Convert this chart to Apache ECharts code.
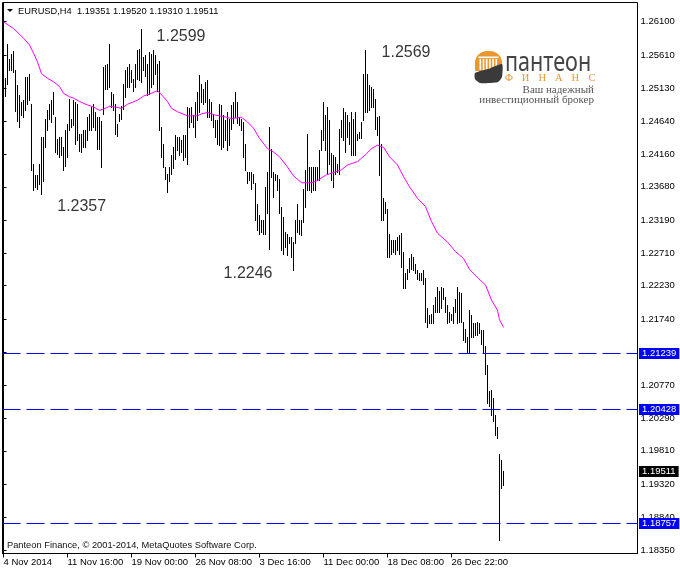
<!DOCTYPE html>
<html><head><meta charset="utf-8">
<script src="https://cdn.jsdelivr.net/npm/echarts@6/dist/echarts.min.js"></script>
<style>html,body{margin:0;padding:0;background:#fff}#c{width:680px;height:571px}</style>
</head><body><div id="c"></div>
<script>
// ---- data ----
const symbolName = 'EURUSD,H4';
const lastOHLC = ['1.19351', '1.19520', '1.19310', '1.19511'];

const highs = [
 1.2528,1.2528,1.2577,1.2556,1.2563,1.2567,1.2539,1.2517,1.2502,1.2492,
 1.2495,1.2529,1.2529,1.2534,1.2490,1.2402,1.2385,1.2385,1.2402,1.2441,
 1.2441,1.2468,1.2480,1.2490,1.2495,1.2507,1.2470,1.2438,1.2441,1.2441,
 1.2426,1.2451,1.2460,1.2497,1.2468,1.2495,1.2492,1.2490,1.2446,1.2446,
 1.2451,1.2451,1.2470,1.2475,1.2485,1.2490,1.2478,1.2470,1.2470,1.2465,
 1.2544,1.2546,1.2548,1.2577,1.2507,1.2504,1.2490,1.2460,1.2475,1.2487,
 1.2519,1.2539,1.2544,1.2548,1.2539,1.2526,1.2548,1.2568,1.2570,1.2599,
 1.2558,1.2561,1.2548,1.2566,1.2563,1.2568,1.2561,1.2548,1.2553,1.2456,
 1.2431,1.2397,1.2387,1.2397,
 1.2414,1.2427,1.2444,1.2441,1.2441,1.2436,1.2444,1.2444,1.2485,1.2483,
 1.2485,1.2473,1.2493,1.2507,1.2532,1.2519,1.2511,1.2522,1.2524,1.2497,
 1.2493,1.2475,1.2466,1.2466,1.2490,1.2488,1.2473,1.2466,1.2478,1.2468,
 1.2488,1.2493,1.2507,1.2493,1.2471,1.2468,1.2463,1.2431,1.2390,1.2390,
 1.2390,1.2387,1.2373,1.2343,1.2326,1.2319,1.2319,1.2368,1.2390,1.2456,
 1.2424,1.2390,1.2387,1.2385,1.2380,1.2339,1.2324,1.2302,1.2299,1.2294,
 1.2294,1.2287,1.2319,1.2343,1.2319,1.2319,1.2365,1.2392,1.2446,1.2397,
 1.2397,1.2397,1.2397,1.2397,1.2422,1.2451,1.2493,1.2473,1.2485,1.2466,
 1.2417,1.2414,1.2412,1.2402,1.2453,
 1.2466,1.2483,1.2478,1.2473,1.2463,1.2478,1.2468,1.2478,1.2446,1.2449,
 1.2463,1.2534,1.2569,1.2534,1.2517,1.2515,1.2512,1.2496,1.2471,1.2472,
 1.2431,1.2351,1.2346,1.2336,1.2299,1.2290,1.2290,1.2290,1.2294,1.2297,
 1.2300,1.2272,1.2241,1.2248,1.2263,1.2270,1.2265,1.2255,1.2246,1.2241,
 1.2241,
 1.2246,1.2234,1.2190,1.2180,1.2182,1.2195,1.2207,1.2221,1.2215,1.2221,
 1.2219,1.2207,1.2195,1.2185,1.2182,1.2192,1.2204,1.2221,1.2214,1.2212,
 1.2170,1.2160,1.2148,1.2187,1.2180,1.2168,1.2168,1.2170,1.2168,1.2158,
 1.2158,1.2135,1.2107,1.2068,1.2070,1.2058,1.2033,1.2016,1.1977,1.1967,
 1.1952
];

const lows = [
 1.2499,1.2501,1.2519,1.2539,1.2539,1.2536,1.2479,1.2465,1.2456,1.2473,
 1.2470,1.2480,1.2490,1.2495,1.2392,1.2363,1.2368,1.2365,1.2372,1.2357,
 1.2377,1.2426,1.2451,1.2468,1.2463,1.2475,1.2419,1.2416,1.2412,1.2414,
 1.2392,1.2399,1.2412,1.2451,1.2456,1.2458,1.2431,1.2436,1.2421,1.2419,
 1.2426,1.2426,1.2436,1.2451,1.2451,1.2456,1.2451,1.2424,1.2424,1.2397,
 1.2475,1.2512,1.2512,1.2514,1.2485,1.2480,1.2446,1.2443,1.2465,1.2468,
 1.2482,1.2500,1.2514,1.2514,1.2522,1.2509,1.2514,1.2526,1.2524,1.2522,
 1.2539,1.2531,1.2502,1.2504,1.2514,1.2519,1.2534,1.2509,1.2451,1.2412,
 1.2397,1.2380,1.2360,1.2377,
 1.2387,1.2395,1.2409,1.2422,1.2414,1.2419,1.2407,1.2412,1.2401,1.2456,
 1.2463,1.2456,1.2441,1.2466,1.2478,1.2493,1.2490,1.2493,1.2471,1.2471,
 1.2466,1.2456,1.2441,1.2431,1.2429,1.2424,1.2427,1.2436,1.2422,1.2429,
 1.2453,1.2461,1.2471,1.2461,1.2458,1.2451,1.2412,1.2392,1.2373,1.2378,
 1.2365,1.2373,1.2319,1.2304,1.2299,1.2302,1.2299,1.2299,1.2329,1.2277,
 1.2382,1.2353,1.2378,1.2363,1.2329,1.2275,1.2270,1.2280,1.2268,1.2285,
 1.2265,1.2246,1.2285,1.2302,1.2299,1.2297,1.2316,1.2339,1.2363,1.2363,
 1.2360,1.2363,1.2363,1.2378,1.2378,1.2422,1.2436,1.2422,1.2387,1.2402,
 1.2378,1.2368,1.2387,1.2390,1.2387,
 1.2441,1.2436,1.2419,1.2441,1.2431,1.2414,1.2414,1.2414,1.2436,1.2439,
 1.2439,1.2466,1.2478,1.2478,1.2480,1.2485,1.2485,1.2453,1.2444,1.2385,
 1.2319,1.2319,1.2329,1.2265,1.2265,1.2270,1.2272,1.2270,1.2275,1.2270,
 1.2250,1.2219,1.2219,1.2233,1.2243,1.2248,1.2246,1.2241,1.2233,1.2231,
 1.2231,
 1.2226,1.2170,1.2163,1.2168,1.2169,1.2169,1.2185,1.2185,1.2185,1.2190,
 1.2204,1.2185,1.2168,1.2170,1.2173,1.2168,1.2185,1.2168,1.2170,1.2170,
 1.2143,1.2141,1.2124,1.2124,1.2148,1.2148,1.2151,1.2151,1.2153,1.2138,
 1.2124,1.2094,1.2051,1.2046,1.2033,1.2024,1.2004,1.1999,1.1850,1.1926,
 1.1931
];

// moving average: [bar index, value]
const maPoints = [
 [0,1.2610],[5,1.2600],[10,1.2586],[13,1.2576],[15,1.2564],[17,1.2551],[19,1.2534],[22,1.2527],
 [25,1.2522],[28,1.2515],[30,1.2505],[33,1.2500],[35,1.2498],[38,1.2493],[42,1.2488],[45,1.2485],
 [48,1.2480],[50,1.2482],[53,1.2486],[56,1.2485],[59,1.2483],[62,1.2489],[67,1.2495],[70,1.2501],
 [73,1.2504],[77,1.2509],[79,1.2503],[82,1.2493],[84,1.2483],[87,1.2478],[92,1.2472],[97,1.2472],
 [99,1.2475],[102,1.2477],[106,1.2473],[110,1.2471],[114,1.2468],[119,1.2470],[122,1.2463],[125,1.2454],
 [128,1.2439],[132,1.2424],[135,1.2419],[138,1.2412],[142,1.2397],[145,1.2384],[149,1.2374],[154,1.2374],
 [157,1.2377],[161,1.2385],[164,1.2388],[169,1.2393],[172,1.2400],[177,1.2405],[181,1.2415],[184,1.2424],
 [187,1.2429],[190,1.2426],[193,1.2412],[197,1.2400],[200,1.2383],[203,1.2368],[207,1.2351],[211,1.2339],
 [214,1.2317],[217,1.2300],[222,1.2287],[226,1.2273],[230,1.2263],[233,1.2247],[237,1.2235],[241,1.2224],
 [244,1.2202],[247,1.2187],[248,1.2173],[250,1.2162]
];

const xTickBars = [0, 32, 64, 96, 128, 160, 192, 224];
const xTickLabels = ['4 Nov 2014','11 Nov 16:00','19 Nov 00:00','26 Nov 08:00','3 Dec 16:00','11 Dec 00:00','18 Dec 08:00','26 Dec 22:00'];
const yTicks = [1.18350,1.18840,1.19320,1.19810,1.20290,1.20770,1.21250,1.21740,1.22230,1.22710,1.23190,1.23680,1.24160,1.24640,1.25130,1.25610,1.26100];
const levels = [1.21239, 1.20428, 1.18757];
const lastPrice = 1.19511;
const noteTexts = ['1.2599', '1.2569', '1.2357', '1.2246'];
const noteBars = [88.75, 201.25, 39.1, 122.25];
const notePrices = [1.25876, 1.25648, 1.23383, 1.22401];

// ---- chart ----
const UI = 'Liberation Sans, Arial, sans-serif';
const SERIF = 'Liberation Serif, DejaVu Serif, serif';
const chart = echarts.init(document.getElementById('c'), null, {renderer: 'canvas'});

const barData = highs.map((h, i) => [i, lows[i], h]);
const xLabelMap = {};
xTickBars.forEach((b, k) => { xLabelMap[b] = xTickLabels[k]; });

// horizontal price line + right-hand price box, drawn through the y scale
function priceLineRenderer(boxColor, drawLine) {
  return function (params, api) {
    const v = api.value(1);
    const cs = params.coordSys;
    const y = Math.round(api.coord([0, v])[1]) + 0.5;
    const children = [];
    if (drawLine) {
      children.push({type: 'line', shape: {x1: cs.x, y1: y, x2: cs.x + cs.width, y2: y},
        style: {stroke: '#0000ff', lineWidth: 1, lineDash: [18, 6]}});
    }
    children.push({type: 'text', x: cs.x + cs.width + 1.5, y: y, z2: 10,
      style: {text: v.toFixed(5), fill: '#fff', backgroundColor: boxColor, padding: [1, 3, 0, 3],
        font: '9.5px ' + UI, lineHeight: 10, align: 'left', verticalAlign: 'middle',
        textAlign: 'left', textVerticalAlign: 'middle'}});
    return {type: 'group', children: children};
  };
}

const orange = '#e8982f';
const finans = ['Ф','И','Н','А','Н','С'];

const option = {
  animation: false,
  backgroundColor: '#ffffff',
  grid: {left: 2.5, top: 2.5, width: 635, height: 551, show: true, borderColor: '#000', borderWidth: 1, backgroundColor: 'transparent'},
  xAxis: {
    type: 'value', min: -0.5, max: 317,
    axisLine: {show: true, lineStyle: {color: '#000', width: 1}},
    axisTick: {show: true, customValues: xTickBars, length: 4, lineStyle: {color: '#000'}},
    axisLabel: {
      show: true, customValues: xTickBars, margin: 4, align: 'left',
      color: '#000', fontFamily: UI, fontSize: 9.5,
      formatter: v => xLabelMap[Math.round(v)] || ''
    },
    splitLine: {show: false}
  },
  yAxis: {
    type: 'value', position: 'right', min: 1.18304, max: 1.26382,
    axisLine: {show: true, lineStyle: {color: '#000', width: 1}},
    axisTick: {show: true, customValues: yTicks, length: 3, lineStyle: {color: '#000'}},
    axisLabel: {
      show: true, customValues: yTicks, margin: 3,
      color: '#000', fontFamily: UI, fontSize: 9.5,
      formatter: v => Number(v).toFixed(5)
    },
    splitLine: {show: false}
  },
  series: [
    {
      type: 'custom', name: 'bars', clip: true, z: 2,
      data: barData,
      encode: {x: 0, y: [1, 2]},
      renderItem: function (params, api) {
        const i = api.value(0);
        const lo = api.coord([i, api.value(1)]);
        const hi = api.coord([i, api.value(2)]);
        const x = Math.floor(lo[0]) + 0.5;
        return {
          type: 'line',
          shape: {x1: x, y1: Math.round(hi[1]), x2: x, y2: Math.round(lo[1]) + 1},
          style: {stroke: '#000', lineWidth: 1}
        };
      }
    },
    {
      type: 'line', name: 'MA', data: maPoints, symbol: 'none', z: 3,
      lineStyle: {color: '#ff00ff', width: 1}
    },
    {
      type: 'custom', name: 'levels', clip: false, z: 5,
      data: levels.map(v => [0, v]),
      encode: {x: 0, y: 1},
      renderItem: priceLineRenderer('#0000ff', true)
    },
    {
      type: 'custom', name: 'last', clip: false, z: 5,
      data: [[0, lastPrice]],
      encode: {x: 0, y: 1},
      renderItem: priceLineRenderer('#000000', false)
    },
    {
      type: 'scatter', name: 'notes', symbolSize: 0, z: 4,
      data: noteBars.map((b, k) => [b, notePrices[k]]),
      label: {
        show: true, position: 'inside', color: '#000',
        fontFamily: UI, fontSize: 16,
        formatter: p => noteTexts[p.dataIndex]
      }
    }
  ],
  graphic: {
    elements: [
      {type: 'polygon', shape: {points: [[7, 9], [13, 9], [10, 12]]}, style: {fill: '#000'}},
      {type: 'text', x: 18, y: 11, style: {text: symbolName + '  ' + lastOHLC.join(' '), font: '9.3px ' + UI, fill: '#000', textAlign: 'left', textVerticalAlign: 'middle'}},
      {type: 'text', x: 7, y: 545, style: {text: 'Panteon Finance, © 2001-2014, MetaQuotes Software Corp.', font: '9.3px ' + UI, fill: '#111', textAlign: 'left', textVerticalAlign: 'middle'}},
      // logo icon
      {type: 'rect', shape: {x: 475, y: 51, width: 27, height: 20, r: [12, 12, 0, 0]}, style: {fill: orange}},
      {type: 'rect', shape: {x: 478.5, y: 56.5, width: 20, height: 1.6}, style: {fill: '#fff'}},
      {type: 'group', children: [0,1,2,3,4,5].map(k => ({type: 'rect', shape: {x: 479.5 + k * 3.2, y: 59, width: 1.6, height: 11}, style: {fill: '#fff'}}))},
      {type: 'polygon', shape: {points: [[475, 73], [488, 69], [502, 64], [502, 77], [498, 82], [489, 83], [480, 83], [475, 79]], smooth: 0.2}, style: {fill: '#3a3a3a'}},
      // logo text
      {type: 'text', x: 505, y: 63, scaleX: 0.8, style: {text: 'пантеон', font: '27px Noto Sans, sans-serif', fill: '#444', textAlign: 'left', textVerticalAlign: 'middle'}},
      {type: 'group', children: finans.map((ch, k) => ({type: 'text', x: 509 + k * 16.6, y: 78.5, style: {text: ch, font: '10.5px ' + SERIF, fill: orange, textAlign: 'center', textVerticalAlign: 'middle'}}))},
      {type: 'text', x: 594, y: 90.5, style: {text: 'Ваш надежный', font: '11px ' + SERIF, fill: '#555', textAlign: 'right', textVerticalAlign: 'middle'}},
      {type: 'text', x: 594, y: 100.5, style: {text: 'инвестиционный брокер', font: '11px ' + SERIF, fill: '#555', textAlign: 'right', textVerticalAlign: 'middle'}}
    ]
  }
};
chart.setOption(option);
</script>
</body></html>
